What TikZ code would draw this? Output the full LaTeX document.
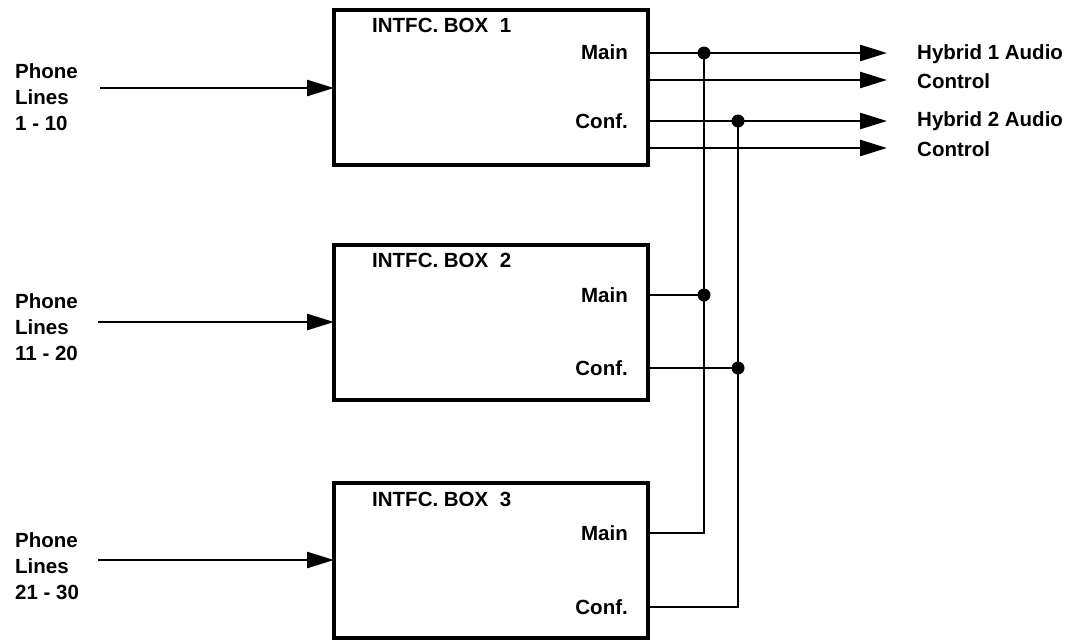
\documentclass[tikz,border=0pt]{standalone}
\usepackage{fontspec}
\setmainfont{Liberation Sans}
\usetikzlibrary{arrows.meta}
\begin{document}
\begin{tikzpicture}[x=1pt,y=-1pt,
  txt/.style={font=\bfseries\fontsize{20.5}{26}\selectfont, inner sep=0pt},
  ibox/.style={draw, line width=4pt, minimum width=314pt, minimum height=155pt, inner sep=0pt, outer sep=0pt, anchor=north west},
  wire/.style={line width=2.6pt},
  arr/.style={wire, -{Triangle[length=27pt,width=16pt]}},
  dot/.style={circle, fill, inner sep=0pt, minimum size=13pt}]
\useasboundingbox (0,0) rectangle (1085,640);
% boxes
\node[ibox] (b1) at (334,10) {};
\node[ibox] (b2) at (334,245) {};
\node[ibox] (b3) at (334,483) {};
% titles
\node[txt, anchor=west] (t1) at (372,25) {INTFC. BOX\ \ 1};
\node[txt, anchor=west] (t2) at (372,260) {INTFC. BOX\ \ 2};
\node[txt, anchor=west] (t3) at (372,499) {INTFC. BOX\ \ 3};
% port labels
\node[txt, anchor=east] (lm1) at (628,52) {Main};
\node[txt, anchor=east] (lc1) at (628,121) {Conf.};
\node[txt, anchor=east] (lm2) at (628,295) {Main};
\node[txt, anchor=east] (lc2) at (628,368) {Conf.};
\node[txt, anchor=east] (lm3) at (628,533) {Main};
\node[txt, anchor=east] (lc3) at (628,607) {Conf.};
% inputs
\node[txt, anchor=west, align=left] (p1) at (15,97) {Phone\\Lines\\1 - 10};
\node[txt, anchor=west, align=left] (p2) at (15,327) {Phone\\Lines\\11 - 20};
\node[txt, anchor=west, align=left] (p3) at (15,566) {Phone\\Lines\\21 - 30};
\coordinate (i1) at (100,88);
\coordinate (i2) at (98,322);
\coordinate (i3) at (98,560);
\draw[arr] (i1) -- (i1 -| b1.west);
\draw[arr] (i2) -- (i2 -| b2.west);
\draw[arr] (i3) -- (i3 -| b3.west);
% outputs
\coordinate (o1) at (887,53);
\coordinate (o2) at (887,80);
\coordinate (o3) at (887,121);
\coordinate (o4) at (887,148);
\draw[arr] (o1 -| b1.east) -- (o1);
\draw[arr] (o2 -| b1.east) -- (o2);
\draw[arr] (o3 -| b1.east) -- (o3);
\draw[arr] (o4 -| b1.east) -- (o4);
\node[txt, anchor=west] (h1) at (917,54) {Hybrid 1 Audio};
\node[txt, anchor=west] (c1) at (917,81) {Control};
\node[txt, anchor=west] (h2) at (917,121) {Hybrid 2 Audio};
\node[txt, anchor=west] (c2) at (917,149) {Control};
% buses
\coordinate (ja) at (704,53);
\coordinate (jb) at (738,121);
\coordinate (m2) at (704,295);
\coordinate (k2) at (738,368);
\coordinate (m3) at (704,533);
\coordinate (k3) at (738,607);
\draw[wire] (m2 -| b2.east) -- (m2);
\draw[wire] (k2 -| b2.east) -- (k2);
\draw[wire] (m3 -| b3.east) -- (m3) -- (ja);
\draw[wire] (k3 -| b3.east) -- (k3) -- (jb);
\node[dot] (da) at (ja) {};
\node[dot] (db) at (jb) {};
\node[dot] (d2) at (m2) {};
\node[dot] (e2) at (k2) {};
\end{tikzpicture}
\end{document}
